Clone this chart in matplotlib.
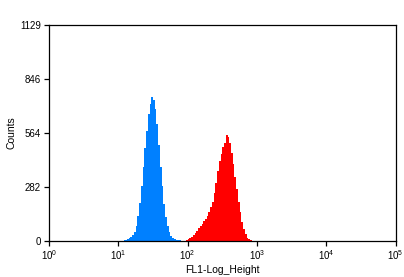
import numpy as np
import matplotlib
matplotlib.use("Agg")
import matplotlib.pyplot as plt

plt.rcParams["font.family"] = ["Liberation Sans", "DejaVu Sans"]
plt.rcParams["mathtext.fontset"] = "custom"
plt.rcParams["mathtext.rm"] = "Liberation Sans"
plt.rcParams["mathtext.it"] = "Liberation Sans"

# histogram bins in log10 units of FL1
bin_width = 0.025
blue_start = 1.05
red_start = 1.975

blue_counts = [2, 4, 5, 9, 14, 22, 30, 45, 80, 128, 200, 285, 385, 485, 575,
               665, 715, 752, 735, 690, 610, 500, 385, 285, 195, 125, 80, 45,
               28, 16, 10, 6, 4, 3, 2, 1, 1]
red_counts = [3, 8, 15, 22, 32, 42, 50, 66, 80, 90, 105, 115, 128, 150, 175,
              205, 250, 305, 365, 420, 455, 490, 510, 555, 545, 510, 460, 400,
              335, 270, 205, 150, 100, 62, 35, 16, 8, 4, 2, 1]

y_ticks = [0, 282, 564, 846, 1129]

fig = plt.figure(figsize=(4.04, 2.77), dpi=100)
ax = fig.add_axes([0.1213, 0.130, 0.858, 0.780])

for counts, start, color in [(blue_counts, blue_start, "#0080ff"),
                             (red_counts, red_start, "#ff0000")]:
    edges = 10 ** (start + bin_width * np.arange(len(counts) + 1))
    ax.stairs(counts, edges, fill=True, color=color, linewidth=0)

ax.set_xscale("log")
ax.set_xlim(1, 1e5)
ax.set_ylim(0, 1129)
ax.set_xticks([10 ** i for i in range(6)])
ax.set_xticklabels([f"10$^{{{i}}}$" for i in range(6)])
ax.minorticks_off()
ax.set_yticks(y_ticks)
ax.set_yticklabels([str(v) for v in y_ticks])

for s in ax.spines.values():
    s.set_linewidth(0.9)
ax.tick_params(axis="both", direction="out", length=3.6, width=0.9,
               labelsize=7)
ax.tick_params(axis="y", pad=2.2)
ax.tick_params(axis="x", pad=1.5)

ax.set_xlabel("FL1-Log_Height", fontsize=7.5, labelpad=2.5)
ax.set_ylabel("Counts", fontsize=7.5, labelpad=2.5)

fig.savefig("out.png", dpi=100)
